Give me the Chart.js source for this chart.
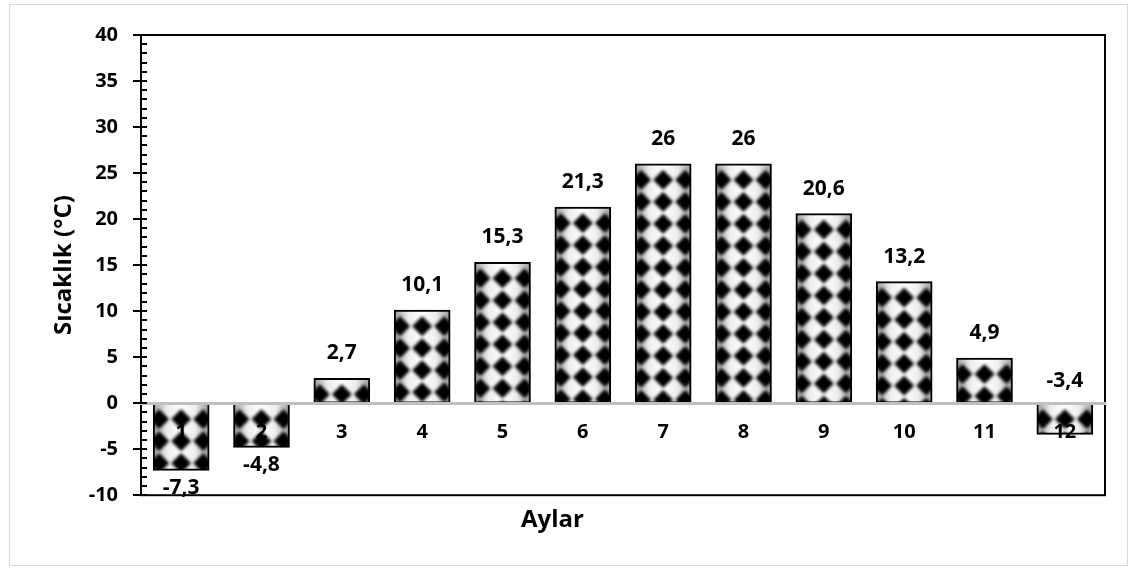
<!DOCTYPE html>
<html lang="tr">
  <head>
    <meta charset="UTF-8" />
    <title>Aylık Sıcaklık</title>
    <script src="https://cdn.jsdelivr.net/npm/chart.js"></script>
    <style>
      html, body { margin: 0; padding: 0; background: #fff; }
      #wrap { position: relative; width: 1134px; height: 569px; }
    </style>
  </head>
  <body>
    <div id="wrap"><canvas id="tempChart"></canvas></div>
    <script>
      // Aylık ortalama sıcaklıklar
      const months = ["1", "2", "3", "4", "5", "6", "7", "8", "9", "10", "11", "12"];
      const temps = [-7.3, -4.8, 2.7, 10.1, 15.3, 21.3, 26, 26, 20.6, 13.2, 4.9, -3.4];
      const yMin = -10;
      const yMax = 40;
      const yStep = 5;

      const FONT = "'Open Sans', sans-serif";
      const BAR_W = 56;

      // dama desenli dolgu: her çubuk için ayrı bir desen
      function barFill(ctx, left, top, w, h) {
        if (!isFinite(left) || !isFinite(top) || !isFinite(h) || h < 1) return "#fff";
        const c = document.createElement("canvas");
        c.width = Math.ceil(w);
        c.height = Math.ceil(h);
        const o = c.getContext("2d");
        const g = o.createLinearGradient(0, 0, w, 0);
        g.addColorStop(0, "#9a9a9a");
        g.addColorStop(0.25, "#ededed");
        g.addColorStop(0.5, "#ffffff");
        g.addColorStop(0.75, "#ededed");
        g.addColorStop(1, "#9a9a9a");
        o.fillStyle = g;
        o.fillRect(0, 0, c.width, c.height);
        o.filter = "blur(1.8px)";
        o.fillStyle = "#000";
        const r = 10;
        for (let cx = w / 2 - 22; cx <= w / 2 + 22; cx += 22) {
          for (let cy = 16; cy < h + r; cy += 22) {
            o.beginPath();
            o.moveTo(cx, cy - r);
            o.lineTo(cx + r, cy);
            o.lineTo(cx, cy + r);
            o.lineTo(cx - r, cy);
            o.closePath();
            o.fill();
          }
        }
        const p = ctx.createPattern(c, "no-repeat");
        p.setTransform(new DOMMatrix([1, 0, 0, 1, left, top]));
        return p;
      }

      const frame = {
        id: "frame",
        beforeDraw(chart) {
          const ctx = chart.ctx;
          ctx.save();
          ctx.strokeStyle = "#d9d9d9";
          ctx.lineWidth = 1;
          ctx.strokeRect(9.5, 4.5, 1118, 561);
          ctx.restore();
        },
        beforeDatasetsDraw(chart) {
          const { ctx, chartArea: a } = chart;
          ctx.save();
          ctx.strokeStyle = "#000";
          ctx.lineWidth = 2;
          ctx.strokeRect(a.left, a.top, a.right - a.left, a.bottom - a.top);
          ctx.restore();
        },
        afterDraw(chart) {
          // büyük ve küçük çentikler
          const { ctx, chartArea: a } = chart;
          const y = chart.scales.y;
          ctx.save();
          ctx.strokeStyle = "#000";
          ctx.lineWidth = 2;
          for (let v = yMin; v <= yMax; v++) {
            const py = Math.round(y.getPixelForValue(v));
            ctx.beginPath();
            ctx.moveTo(v % yStep === 0 ? a.left - 8 : a.left, py);
            ctx.lineTo(a.left + 6, py);
            ctx.stroke();
          }
          ctx.restore();
        },
      };

      const valueLabels = {
        id: "valueLabels",
        afterDatasetsDraw(chart) {
          const ctx = chart.ctx;
          const meta = chart.getDatasetMeta(0);
          ctx.save();
          ctx.font = "bold 21px " + FONT;
          ctx.fillStyle = "#000";
          ctx.textAlign = "center";
          ctx.textBaseline = "middle";
          meta.data.forEach((bar, i) => {
            const v = temps[i];
            let py;
            if (v >= 0) py = bar.y - 25;
            else if (v > -4) py = bar.base - 22;
            else py = bar.y + 18;
            ctx.fillText(String(v).replace(".", ","), bar.x, py);
          });
          ctx.restore();
        },
      };

      new Chart(document.getElementById("tempChart"), {
        type: "bar",
        data: {
          labels: months,
          datasets: [
            {
              data: temps,
              barThickness: BAR_W,
              borderColor: "#000",
              borderWidth: 2,
              borderSkipped: false,
              backgroundColor: (c) => {
                if (c.type !== "data") return "#fff";
                const xs = c.chart.scales.x;
                const ys = c.chart.scales.y;
                if (!xs || !ys) return "#fff";
                const v = temps[c.dataIndex];
                const cx = xs.getPixelForValue(c.dataIndex);
                const top = ys.getPixelForValue(Math.max(v, 0));
                const bottom = ys.getPixelForValue(Math.min(v, 0));
                return barFill(c.chart.ctx, cx - BAR_W / 2, top, BAR_W, bottom - top);
              },
            },
          ],
        },
        options: {
          responsive: true,
          maintainAspectRatio: false,
          animation: false,
          layout: { padding: { top: 31, right: 29, left: 0, bottom: 0 } },
          plugins: {
            legend: { display: false },
            tooltip: { enabled: false },
            title: {
              display: true,
              position: "bottom",
              text: "Aylar",
              color: "#000",
              font: { family: FONT, size: 24, weight: "bold" },
              padding: { top: 11, bottom: 34 },
            },
          },
          scales: {
            x: {
              position: { y: 0 },
              offset: true,
              grid: { display: false, drawTicks: false },
              border: { display: true, color: "#bfbfbf", width: 3, z: 1 },
              ticks: {
                z: 1,
                color: "#000",
                padding: 17,
                font: { family: FONT, size: 20, weight: "bold" },
              },
            },
            y: {
              min: yMin,
              max: yMax,
              grid: { display: false, drawTicks: false },
              border: { display: true, color: "#000", width: 2 },
              ticks: {
                stepSize: yStep,
                color: "#000",
                padding: 23,
                font: { family: FONT, size: 20, weight: "bold" },
              },
              title: {
                display: true,
                text: "Sıcaklık (°C)",
                color: "#000",
                font: { family: FONT, size: 24, weight: "bold" },
                padding: { top: 50, bottom: 0 },
              },
              afterFit(scale) {
                scale.width = 141;
              },
            },
          },
        },
        plugins: [frame, valueLabels],
      });
    </script>
  </body>
</html>
